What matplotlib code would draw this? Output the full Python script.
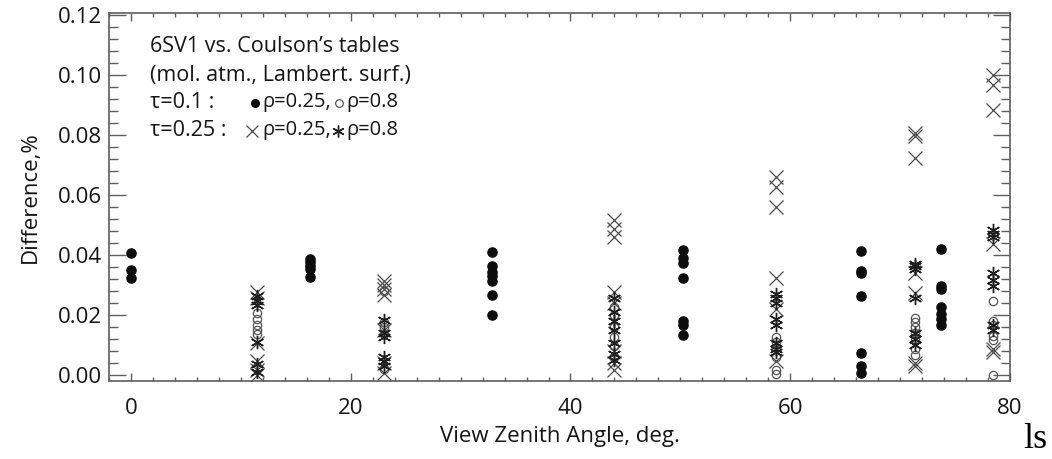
import matplotlib
matplotlib.use("Agg")
import matplotlib.pyplot as plt
from matplotlib.ticker import MultipleLocator

# view zenith angles (deg) for each group of points
vza_dots = [0.0, 16.26, 32.86, 50.21, 66.42, 73.74]
vza_other = [11.48, 23.07, 43.95, 58.67, 71.34, 78.46]

# tau=0.1, rho=0.25 (filled circles)
dots = [
    [0.0405, 0.0350, 0.0322],
    [0.0386, 0.0375, 0.0364, 0.0354, 0.0328],
    [0.0411, 0.0362, 0.0342, 0.0330, 0.0314, 0.0265, 0.0200],
    [0.0416, 0.0390, 0.0372, 0.0322, 0.0180, 0.0168, 0.0132],
    [0.0413, 0.0346, 0.0340, 0.0262, 0.0074, 0.0030, 0.0008],
    [0.0419, 0.0298, 0.0285, 0.0226, 0.0204, 0.0187, 0.0165],
]
# tau=0.1, rho=0.8 (open circles)
circles = [
    [0.0205, 0.0185, 0.0165, 0.0150, 0.0135],
    [0.0280, 0.0175, 0.0160, 0.0135, 0.0020],
    [0.0225, 0.0200, 0.0160, 0.0125, 0.0095, 0.0060],
    [0.0125, 0.0110, 0.0090, 0.0060, 0.0015, 0.0002],
    [0.0190, 0.0175, 0.0160, 0.0140, 0.0120, 0.0085, 0.0065],
    [0.0245, 0.0180, 0.0165, 0.0130, 0.0115, 0.0000],
]
# tau=0.25, rho=0.25 (crosses)
crosses = [
    [0.0278, 0.0255, 0.0105, 0.0045, 0.0015, 0.0000],
    [0.0312, 0.0300, 0.0285, 0.0265, 0.0150, 0.0040, 0.0005],
    [0.0515, 0.0488, 0.0460, 0.0275, 0.0240, 0.0080, 0.0040, 0.0015],
    [0.0660, 0.0628, 0.0560, 0.0322, 0.0220, 0.0045],
    [0.0805, 0.0798, 0.0722, 0.0340, 0.0272, 0.0040, 0.0030],
    [0.1000, 0.0965, 0.0882, 0.0435, 0.0085, 0.0078],
]
# tau=0.25, rho=0.8 (asterisks)
stars = [
    [0.0262, 0.0245, 0.0232, 0.0110, 0.0035, 0.0010],
    [0.0182, 0.0140, 0.0125, 0.0060, 0.0045, 0.0030],
    [0.0255, 0.0210, 0.0180, 0.0150, 0.0105, 0.0070, 0.0050],
    [0.0270, 0.0255, 0.0240, 0.0185, 0.0165, 0.0105, 0.0085, 0.0075],
    [0.0370, 0.0364, 0.0352, 0.0258, 0.0140, 0.0120, 0.0100],
    [0.0482, 0.0470, 0.0460, 0.0340, 0.0315, 0.0295, 0.0165, 0.0150],
]


def flatten(angles, groups):
    xs, ys = [], []
    for a, vals in zip(angles, groups):
        xs += [a] * len(vals)
        ys += vals
    return xs, ys


plt.rcParams['font.family'] = ['Open Sans', 'DejaVu Sans']
txt = '#151515'
axc = '#5e5e5e'

fig = plt.figure(figsize=(10.52, 4.59), dpi=100)
W, H = 1052, 459
L, R, T, B = 109, 1010, 12.5, 381
ax = fig.add_axes([L / W, 1 - B / H, (R - L) / W, (B - T) / H])

x, y = flatten(vza_other, circles)
ax.plot(x, y, 'o', ms=6, mfc='none', mec='#555555', mew=0.9, ls='none')
x, y = flatten(vza_other, crosses)
ax.plot(x, y, 'x', ms=10, mec='#4a4a4a', mew=0.9, ls='none')
x, y = flatten(vza_other, stars)
ax.plot(x, y, marker=(6, 2, 0), ms=9.5, mec='#1e1e1e', mew=1.0, ls='none')
x, y = flatten(vza_dots, dots)
ax.plot(x, y, 'o', ms=6.6, mfc='#0d0d0d', mec='#0d0d0d', ls='none')

ax.set_xlim(-2, 80)
ax.set_ylim(-0.002, 0.1208)
ax.xaxis.set_major_locator(MultipleLocator(20))
ax.xaxis.set_minor_locator(MultipleLocator(2))
ax.yaxis.set_major_locator(MultipleLocator(0.02))
ax.yaxis.set_minor_locator(MultipleLocator(0.004))
ax.yaxis.set_major_formatter(matplotlib.ticker.FormatStrFormatter('%.2f'))

for s in ax.spines.values():
    s.set_color(axc)
    s.set_linewidth(1.2)
ax.tick_params(axis='both', which='both', direction='in', colors=axc,
               labelcolor=txt, labelsize=16, top=True, right=True, width=1.0)
ax.tick_params(axis='y', which='major', length=12, pad=5)
ax.tick_params(axis='y', which='minor', length=6.5)
ax.tick_params(axis='x', which='major', length=6, pad=12)
ax.tick_params(axis='x', which='minor', length=3)

ax.set_xlabel('View Zenith Angle, deg.', fontsize=16, color=txt, labelpad=5)
ax.set_ylabel('Difference,%', fontsize=16, color=txt, labelpad=12)


def fx(px):
    return (px - L) / (R - L)


def fy(py):
    return (B - py) / (B - T)


tk = dict(transform=ax.transAxes, fontsize=15.5, color=txt, va='center', ha='left')
ax.text(fx(150), fy(46), '6SV1 vs. Coulson\u2019s tables', **tk)
ax.text(fx(150), fy(75), '(mol. atm., Lambert. surf.)', **tk)
ax.text(fx(150), fy(102), '\u03c4=0.1 :', **tk)
ax.text(fx(150), fy(130), '\u03c4=0.25 :', **tk)
tr = dict(tk, fontsize=14.5)
ax.text(fx(262), fy(102), '\u03c1=0.25,', **tr)
ax.text(fx(346), fy(102), '\u03c1=0.8', **tr)
ax.text(fx(262), fy(130), '\u03c1=0.25,', **tr)
ax.text(fx(346), fy(130), '\u03c1=0.8', **tr)
ax.plot([fx(255)], [fy(103)], 'o', ms=5.5, color='#0d0d0d', transform=ax.transAxes, clip_on=False)
ax.plot([fx(339)], [fy(103)], 'o', ms=5.5, mfc='none', mec='#555555', mew=0.9,
        transform=ax.transAxes, clip_on=False)
ax.plot([fx(252)], [fy(131)], 'x', ms=8.5, mec='#4a4a4a', mew=0.9,
        transform=ax.transAxes, clip_on=False)
ax.plot([fx(338)], [fy(131)], marker=(6, 2, 0), ms=8.5, mec='#1e1e1e', mew=1.0,
        transform=ax.transAxes, clip_on=False)

fig.text(1023 / W, 1 - 440 / H, 'ls', family='Liberation Serif', fontsize=26,
         color='#000000', va='center', ha='left')

fig.savefig('out.png', dpi=100)
